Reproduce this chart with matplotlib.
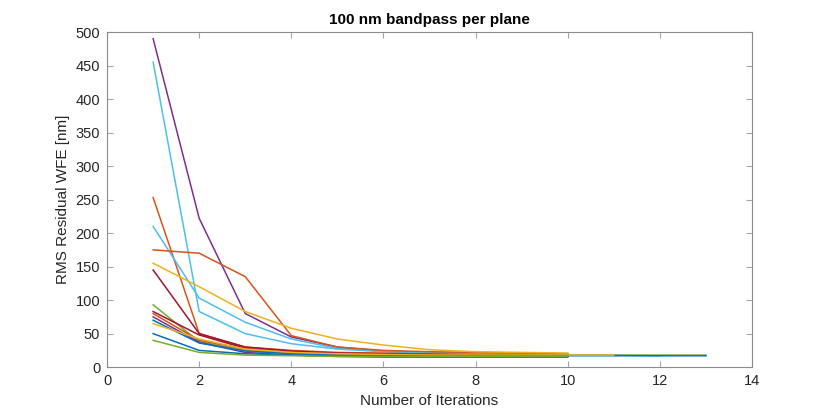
import matplotlib
matplotlib.use("Agg")
import matplotlib.pyplot as plt

plt.rcParams['font.family'] = ['Liberation Sans', 'DejaVu Sans']

series_values = [
    [490, 222, 80, 45, 30, 24, 21, 19, 18, 17],
    [455, 83, 50, 35, 27, 23, 21, 20, 19, 18, 18, 17],
    [253, 50, 30, 25, 22, 21, 20, 20, 19, 19],
    [210, 103, 67, 42, 28, 24, 22, 21, 20, 19],
    [175, 170, 135, 47, 30, 25, 23, 22, 21, 20],
    [155, 120, 83, 58, 42, 33, 26, 23, 22, 21],
    [145, 50, 30, 24, 21, 20, 19, 18, 18, 17],
    [93, 38, 25, 21, 19, 18, 18, 18, 18, 18, 18, 18, 18],
    [83, 48, 28, 22, 20, 19, 18, 18, 17, 17],
    [80, 40, 27, 21, 19, 18, 18, 17, 17, 17],
    [75, 37, 22, 18, 16, 15, 15, 15, 15, 15],
    [70, 36, 24, 20, 18, 18, 17, 17, 17, 17, 17, 17, 17],
    [65, 42, 27, 22, 20, 19, 18, 18, 18, 18, 18],
    [50, 25, 20, 18, 17, 17, 16, 16, 16, 16],
    [40, 22, 18, 17, 16, 16, 16, 16, 16, 16],
]
series_colors = ['#7E2F8E', '#4DBEEE', '#D95319', '#4DBEEE', '#D95319', '#EDB120',
                 '#A2142F', '#77AC30', '#A2142F', '#D95319', '#7E2F8E', '#0072BD',
                 '#EDB120', '#0072BD', '#77AC30']
x_ticks = [0, 2, 4, 6, 8, 10, 12, 14]
y_ticks = [0, 50, 100, 150, 200, 250, 300, 350, 400, 450, 500]

fig = plt.figure(figsize=(8.3, 4.13), dpi=100)
ax = fig.add_axes([0.129, 0.111, 0.777, 0.8115])
for vals, c in zip(series_values, series_colors):
    ax.plot(range(1, len(vals) + 1), vals, color=c, lw=1.1)

ax.set_xlim(0, 14)
ax.set_ylim(0, 500)
ax.set_xticks(x_ticks)
ax.set_yticks(y_ticks)
ax.tick_params(direction='in', top=True, right=True, length=4, width=0.8,
               color='#a6a6a6', labelsize=10.5, labelcolor='#262626', pad=5)
for s in ax.spines.values():
    s.set_color('#8c8c8c')
    s.set_linewidth(0.8)
ax.set_xlabel('Number of Iterations', fontsize=11, color='#262626', labelpad=4)
ax.set_ylabel('RMS Residual WFE [nm]', fontsize=11, color='#262626', labelpad=4)
ax.set_title('100 nm bandpass per plane', fontsize=11, fontweight='bold', color='black', pad=6)

fig.savefig('out.png', dpi=100)
